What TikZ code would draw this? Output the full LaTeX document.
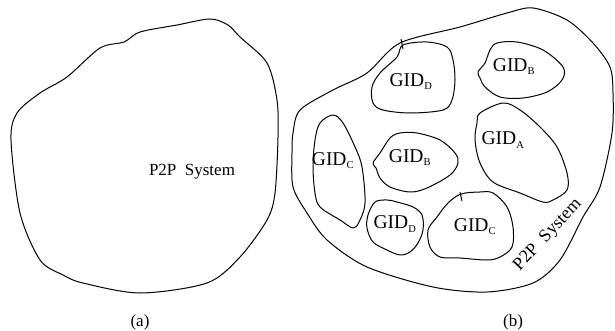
\documentclass[tikz,border=0pt]{standalone}
\usepackage{fontspec}
\setmainfont{Liberation Serif}
\begin{document}
\begin{tikzpicture}[x=1pt,y=-1pt,
  outline/.style={draw=black,line width=1pt,line join=round},
  blob/.style={outline,smooth cycle,tension=0.55},
  gid/.style={font=\fontsize{19.5}{19.5}\selectfont,inner sep=0pt},
  captext/.style={font=\fontsize{17}{17}\selectfont,inner sep=0pt}]
\useasboundingbox[fill=white] (0,0) rectangle (615,331);
\newcommand{\gidtext}[1]{GID\textsubscript{\fontsize{10.5}{10.5}\selectfont #1}}

% (a) the whole P2P system as one region
\draw[outline] plot[smooth cycle,tension=0.5] coordinates {
 (210,19) (228,25) (240,37) (267,63) (277,100) (278,137) (275,193)
 (267,220) (240,257) (207,283) (140,293) (83,283) (63,275) (40,260)
 (20,213) (11,140) (17,113) (40,93) (67,77) (100,48) (124,42)
 (140,32) (177,25)};
\node[captext] (sysa) at (192,172) {P2P\ \ System};
\node[captext] (laba) at (140,322) {(a)};

% (b) the system split into groups
\draw[outline] plot[smooth cycle,tension=0.5] coordinates {
 (300,110) (333,90) (367,73) (400,43) (460,27) (507,13) (533,8)
 (567,20) (593,43) (610,67) (613,93) (612,133) (600,187) (583,217)
 (560,260) (533,283) (487,292) (433,287) (367,267) (327,240)
 (307,213) (293,187) (292,153) (293,133)};

% groups
\draw[blob] plot coordinates {(403,45) (427,42) (447,47) (453,60) (455,80)
 (452,100) (443,110) (410,113) (383,110) (373,103) (372,87) (380,73)
 (397,57)};
\draw[outline] (401,39) -- (403,49);
\node[gid] (d1) at (411,82) {\gidtext{D}};

\draw[blob] plot coordinates {(497,43) (517,42) (543,50) (563,67) (562,80)
 (547,92) (523,98) (500,97) (485,87) (480,78) (478,72) (485,63) (490,50)};
\node[gid] (b1) at (514,67) {\gidtext{B}};

\draw[blob] plot coordinates {(480,113) (503,103) (520,110) (540,127)
 (557,147) (567,173) (567,190) (553,200) (543,202) (520,193) (493,182)
 (480,163) (475,140) (477,123)};
\node[gid] (a1) at (503,140) {\gidtext{A}};

\draw[blob] plot coordinates {(320,123) (333,115) (343,123) (355,147)
 (362,167) (365,203) (359,222) (353,228) (340,220) (320,207) (315,193)
 (313,167) (315,140)};
\node[gid] (c1) at (333,161) {\gidtext{C}};

\draw[blob] plot coordinates {(390,138) (400,133) (417,133) (440,140)
 (455,153) (458,163) (450,175) (427,188) (410,192) (390,187) (380,178)
 (376,168) (373,163) (380,153)};
\node[gid] (b2) at (410,158) {\gidtext{B}};

\draw[blob] plot coordinates {(375,202) (387,200) (397,202) (413,207)
 (422,215) (423,230) (418,243) (410,252) (400,255) (387,250) (373,242)
 (367,228) (368,215)};
\node[gid] (d2) at (395,224) {\gidtext{D}};

\draw[blob] plot coordinates {(461,194) (480,192) (493,193) (507,207)
 (513,227) (512,247) (500,257) (487,260) (460,258) (440,257) (430,247)
 (428,230) (437,217) (448,203)};
\draw[outline] (460,192) -- (462,201);
\node[gid] (c2) at (475,227) {\gidtext{C}};

\node[captext,rotate=47,font=\fontsize{18}{18}\selectfont] (sysb) at (548,235) {P2P\ \ System};
\node[captext] (labb) at (513,322) {(b)};
\end{tikzpicture}
\end{document}
